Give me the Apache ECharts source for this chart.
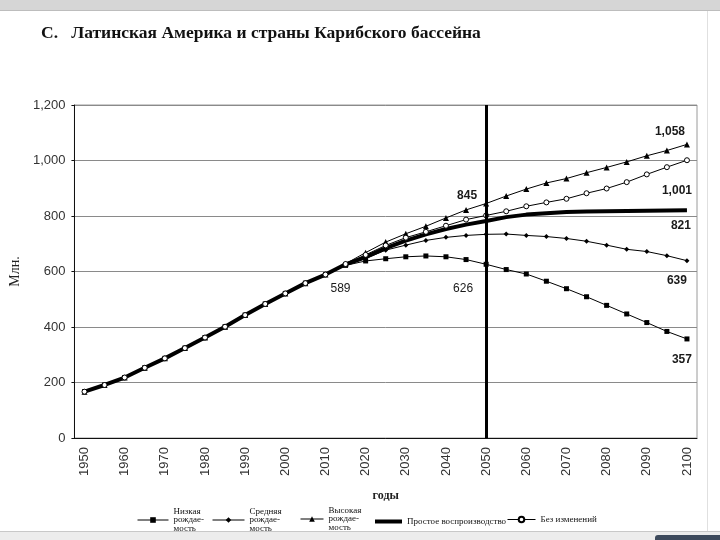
<!DOCTYPE html>
<html>
<head>
<meta charset="utf-8">
<script src="https://cdn.jsdelivr.net/npm/echarts@6/dist/echarts.min.js"></script>
<style>html,body{margin:0;padding:0;background:#fff;}#c{width:720px;height:540px;}</style>
</head>
<body>
<div id="c"></div>
<script>
const years = ['1950','1955','1960','1965','1970','1975','1980','1985','1990','1995','2000','2005','2010',
  '2015','2020','2025','2030','2035','2040','2045','2050','2055','2060','2065','2070','2075','2080','2085','2090','2095','2100'];
const history = [167,191,218,253,287,324,362,401,443,483,521,558,589];
const lowProj = [622,638,646,653,656,653,643,626,607,591,565,538,509,478,447,416,384,357];
const mediumProj = [625,647,677,695,712,723,730,734,735,730,726,719,709,695,680,672,657,639];
const highProj = [628,668,706,736,763,793,822,845,872,897,919,935,956,975,995,1017,1036,1058];
const replacementProj = [626,652,684,711,734,753,769,782,796,805,810,814,816,817,818,819,820,821];
const constantProj = [627,660,694,722,743,765,787,802,817,835,849,862,882,899,922,950,976,1001];
const yTicks = [0,200,400,600,800,1000,1200];

const names = ['Низкая\nрождае-\nмость','Средняя\nрождае-\nмость','Высокая\nрождае-\nмость','Простое воспроизводство','Без изменений'];
const fmt = v => v.toLocaleString('en-US');

function full(proj){ return history.concat(proj); }
function endLabel(yr, v, off, bold){
  return {coord:[yr, v], value:v, label:{formatter: fmt(v), offset: off, fontWeight: bold ? 'bold':'normal'}};
}
const mpBase = {symbol:'circle', symbolSize:1, itemStyle:{color:'rgba(0,0,0,0)'},
  label:{show:true, position:'inside', color:'#1a1a1a', fontFamily:'Liberation Sans', fontSize:12}};

const chart = echarts.init(document.getElementById('c'));
const legendFont = {fontFamily:'Liberation Serif', fontSize:9, lineHeight:8.5, color:'#111'};
function lg(name, left, top, w, extra){
  return Object.assign({data:[name], left:left, top:top, itemWidth:w, itemHeight:7, textStyle:legendFont,
    selectedMode:false, padding:0, itemGap:0, lineStyle:{width:1}}, extra || {});
}
chart.setOption({
  animation:false,
  backgroundColor:'#fff',
  title:{text:'С.   Латинская Америка и страны Карибского бассейна', left:36, top:19,
    textStyle:{fontFamily:'Liberation Serif', fontWeight:'bold', fontSize:17.5, color:'#111'}},
  graphic:[
    {type:'rect', shape:{x:0,y:0,width:720,height:10}, style:{fill:'#d6d6d6'}},
    {type:'line', shape:{x1:0,y1:10.5,x2:720,y2:10.5}, style:{stroke:'#bdbdbd', lineWidth:1}},
    {type:'line', shape:{x1:707.5,y1:11,x2:707.5,y2:531}, style:{stroke:'#e0e0e0', lineWidth:1}},
    {type:'rect', shape:{x:0,y:531,width:720,height:9}, style:{fill:'#ececec'}},
    {type:'line', shape:{x1:0,y1:531.5,x2:720,y2:531.5}, style:{stroke:'#c8c8c8', lineWidth:1}},
    {type:'rect', shape:{x:655,y:535,width:65,height:5, r:[3,0,0,0]}, style:{fill:'#3d4a5c'}}
  ],
  legend:[
    lg(names[0], 137, 507, 31),
    lg(names[1], 212, 507, 32),
    lg(names[2], 300, 506, 23),
    lg(names[3], 375, 517, 27, {icon:'rect', itemHeight:4}),
    lg(names[4], 507, 515, 28)
  ],
  grid:{left:73, right:23, top:105, bottom:102, show:true, borderColor:'#9a9a9a', borderWidth:1},
  xAxis:{type:'category', data:years, boundaryGap:true,
    name:'годы', nameLocation:'middle', nameGap:52,
    nameTextStyle:{fontFamily:'Liberation Serif', fontWeight:'bold', fontSize:12, color:'#222'},
    axisLine:{lineStyle:{color:'#111', width:1}},
    axisTick:{interval:0, length:4, lineStyle:{color:'#111'}},
    axisLabel:{interval:1, rotate:90, margin:9, fontFamily:'Liberation Sans', fontSize:13, color:'#333'},
    splitLine:{show:false}},
  yAxis:{type:'value', min:0, max:1200, interval:200,
    name:'Млн.', nameLocation:'middle', nameGap:38, nameRotate:90,
    nameTextStyle:{fontFamily:'Liberation Serif', fontSize:14, color:'#222'},
    axisLine:{show:true, lineStyle:{color:'#111', width:1}},
    axisTick:{show:true, length:3, lineStyle:{color:'#111'}},
    axisLabel:{margin:9, fontFamily:'Liberation Sans', fontSize:13, color:'#333', formatter: v => fmt(v)},
    splitLine:{lineStyle:{color:'#8a8a8a', width:1}}},
  series:[
    {name:names[3], type:'line', data:full(replacementProj), symbol:'none', showSymbol:false,
      lineStyle:{color:'#000', width:4}, itemStyle:{color:'#000'}, z:2,
      markLine:{silent:true, symbol:'none', label:{show:false}, lineStyle:{color:'#000', width:3, type:'solid'},
        data:[{xAxis:'2050'}]},
      markPoint:Object.assign({}, mpBase, {data:[endLabel('2100', 821, [-6,16], true)]})},
    {name:names[0], type:'line', data:full(lowProj), symbol:'rect', symbolSize:5,
      lineStyle:{color:'#000', width:1}, itemStyle:{color:'#000'}, z:3,
      markPoint:Object.assign({}, mpBase, {data:[endLabel('2050', 626, [-23,24], false), endLabel('2100', 357, [-5,21], true)]})},
    {name:names[1], type:'line', data:full(mediumProj), symbol:'diamond', symbolSize:5,
      lineStyle:{color:'#000', width:1}, itemStyle:{color:'#000'}, z:3,
      markPoint:Object.assign({}, mpBase, {data:[endLabel('2100', 639, [-10,20], true)]})},
    {name:names[2], type:'line', data:full(highProj), symbol:'triangle', symbolSize:6,
      lineStyle:{color:'#000', width:1}, itemStyle:{color:'#000'}, z:3,
      markPoint:Object.assign({}, mpBase, {data:[endLabel('2050', 845, [-19,-8], true), endLabel('2100', 1058, [-17,-13], true)]})},
    {name:names[4], type:'line', data:full(constantProj), symbol:'circle', symbolSize:5,
      lineStyle:{color:'#000', width:1}, itemStyle:{color:'#fff', borderColor:'#000', borderWidth:1}, z:4,
      markPoint:Object.assign({}, mpBase, {data:[endLabel('2010', 589, [15,14], false), endLabel('2100', 1001, [-10,30], true)]})}
  ]
});
</script>
</body>
</html>
